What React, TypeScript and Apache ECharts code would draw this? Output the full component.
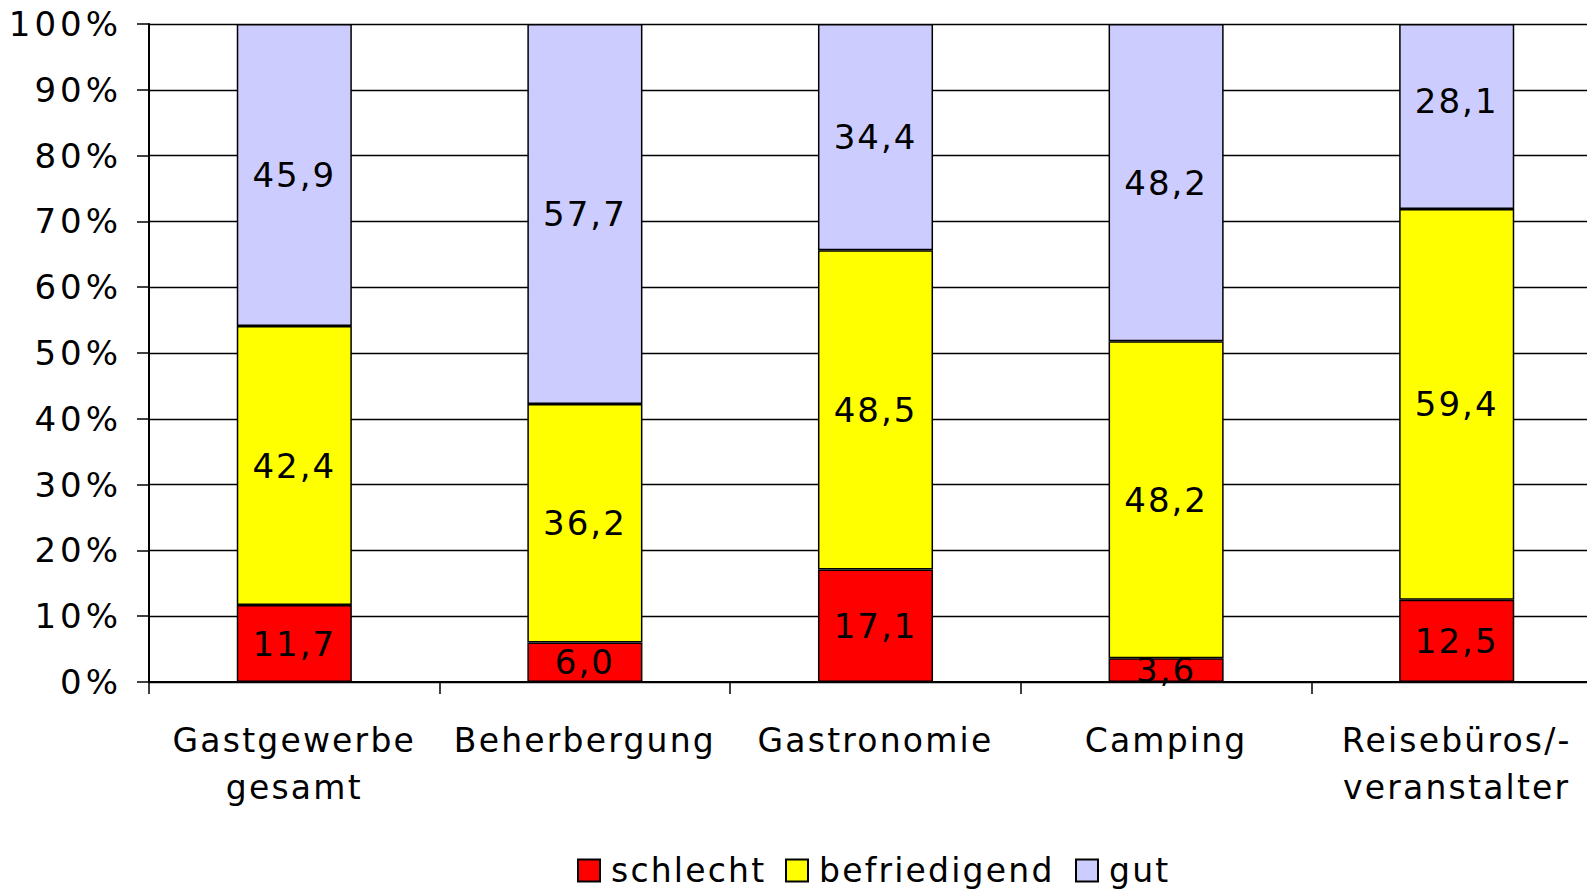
import React, { useEffect, useRef } from "react";
import * as echarts from "echarts";

const categories = [
  "Gastgewerbe\ngesamt",
  "Beherbergung",
  "Gastronomie",
  "Camping",
  "Reisebüros/-\nveranstalter",
];
const schlecht = [11.7, 6.0, 17.1, 3.6, 12.5];
const befriedigend = [42.4, 36.2, 48.5, 48.2, 59.4];
const gut = [45.9, 57.7, 34.4, 48.2, 28.1];
const seriesNames = ["schlecht", "befriedigend", "gut"];
const seriesColors = ["#FF0000", "#FFFF00", "#CCCCFF"];
const yTicks = [0, 10, 20, 30, 40, 50, 60, 70, 80, 90, 100];

const FONT = "'DejaVu Sans', Verdana, sans-serif";
const legendLefts = [572, 780, 1070];

export default function App() {
  const ref = useRef<HTMLDivElement>(null);
  useEffect(() => {
    if (!ref.current) return;
    const el = ref.current;
    const chart = echarts.init(el, null, { renderer: "svg" });
    const raw = [schlecht, befriedigend, gut];
    const totals = categories.map((_, i) => raw.reduce((s, arr) => s + arr[i], 0));
    const series = raw.map((arr, k) => ({
      name: seriesNames[k],
      type: "bar",
      stack: "total",
      barWidth: "39.6%",
      data: arr.map((v, i) => {
        const item: any = { value: (v / totals[i]) * 100, raw: v };
        // the reference shows the last bar's top label raised above centre
        if (k === 2 && i === 4) item.label = { offset: [0, -15] };
        return item;
      }),
      itemStyle: { color: seriesColors[k], borderColor: "#000", borderWidth: 1.5 },
      label: {
        show: true,
        position: "inside",
        fontFamily: FONT,
        fontSize: 34,
        color: "#000",
        formatter: (p: any) => p.data.raw.toFixed(1).replace(".", ","),
      },
    }));
    const legends = seriesNames.map((n, k) => ({
      left: legendLefts[k],
      top: 849,
      itemWidth: 22,
      itemHeight: 22,
      icon: "rect",
      selectedMode: false,
      textStyle: { fontFamily: FONT, fontSize: 33, color: "#000", padding: [0, 0, 0, 6] },
      data: [n],
    }));
    chart.setOption({
      animation: false,
      backgroundColor: "#fff",
      textStyle: { fontFamily: FONT },
      grid: { left: 149, top: 24, width: 1453, height: 658, containLabel: false },
      legend: legends,
      xAxis: {
        type: "category",
        data: categories,
        axisLine: { lineStyle: { color: "#000", width: 2 } },
        axisTick: { show: true, length: 12, interval: 0, lineStyle: { color: "#000", width: 1.5 } },
        axisLabel: {
          interval: 0,
          margin: 35,
          fontFamily: FONT,
          fontSize: 33,
          lineHeight: 47,
          color: "#000",
          align: "center",
        },
      },
      yAxis: {
        type: "value",
        min: 0,
        max: 100,
        interval: 10,
        axisLine: { show: true, lineStyle: { color: "#000", width: 2 } },
        axisTick: { show: true, length: 12, lineStyle: { color: "#000", width: 1.5 } },
        splitLine: { show: true, lineStyle: { color: "#000", width: 1.3 } },
        axisLabel: {
          margin: 27,
          fontFamily: FONT,
          fontSize: 34,
          color: "#000",
          formatter: (v: number) => (yTicks.includes(v) ? v + "%" : ""),
        },
      },
      series,
    });
    const applySpacing = () => {
      el.querySelectorAll("text").forEach((t) => {
        const s = (t.textContent || "").trim();
        let ls = "2.2px";
        if (/%$/.test(s)) ls = "4px";
        else if (/^\d+,\d$/.test(s)) ls = "2px";
        t.setAttribute("letter-spacing", ls);
      });
    };
    chart.on("rendered", applySpacing);
    applySpacing();
    return () => chart.dispose();
  }, []);
  return (
    <div style={{ position: "absolute", left: 0, top: 0, width: 1587, height: 889, overflow: "hidden" }}>
      <div ref={ref} style={{ width: 1620, height: 889 }} />
    </div>
  );
}
